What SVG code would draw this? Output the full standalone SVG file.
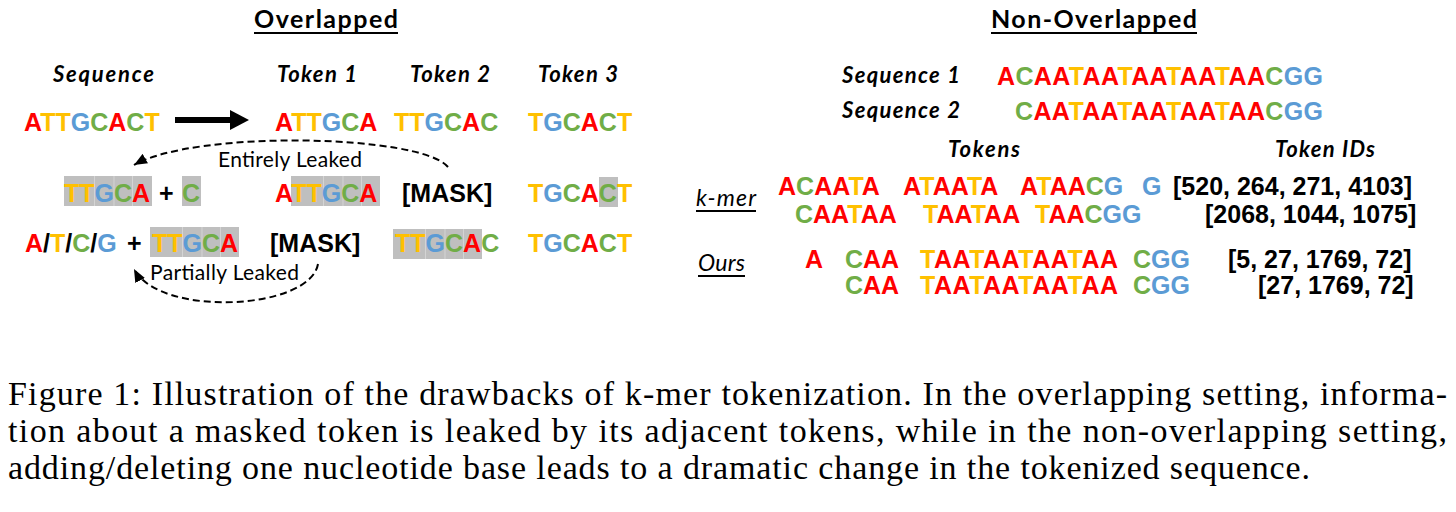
<svg xmlns="http://www.w3.org/2000/svg" width="1456" height="512" viewBox="0 0 1456 512">
<defs>
<style>
.n{font-family:"Liberation Sans",Arial,sans-serif;font-weight:bold;font-size:25px;fill:#000}
.a{fill:#FF0000}.t{fill:#FFC000}.g{fill:#5B9BD5}.c{fill:#70AD47}
.lbl{font-family:Lato,"Open Sans",sans-serif;font-weight:bold;font-style:italic;font-size:22px;fill:#000}
.ttl{font-family:Lato,"Open Sans",sans-serif;font-weight:bold;font-size:25px;fill:#000}
.note{font-family:Lato,"Open Sans",sans-serif;font-size:21px;fill:#000}
.meth{font-family:Lato,"Open Sans",sans-serif;font-style:italic;font-size:23px;fill:#000}
.cap{font-family:"Liberation Serif","Times New Roman",serif;font-size:34px;fill:#000}
.hl{fill:#BFBFBF}
.sep{stroke:#D4D4D4;stroke-width:1}
.ul{stroke:#000;stroke-width:2}
.dash{fill:none;stroke:#000;stroke-width:2;stroke-dasharray:7 4}
</style>
<marker id="ah" viewBox="0 0 12 10" refX="12" refY="5" markerWidth="13" markerHeight="11" markerUnits="userSpaceOnUse" orient="auto"><path d="M0,0 L12,5 L0,10 z" fill="#000"/></marker>
</defs>
<rect width="1456" height="512" fill="#fff"/>

<g id="overlapped">
  <text class="ttl" x="254" y="28" textLength="144">Overlapped</text>
  <line class="ul" x1="254" y1="33" x2="398" y2="33"/>
  <text class="lbl" x="53" y="82" textLength="101">Sequence</text>
  <text class="lbl" x="277" y="82" textLength="80">Token 1</text>
  <text class="lbl" x="410" y="82" textLength="80">Token 2</text>
  <text class="lbl" x="538" y="82" textLength="80">Token 3</text>

  <g id="row1">
    <text class="n" x="24" y="131"><tspan class="a">A</tspan><tspan class="t">TT</tspan><tspan class="g">G</tspan><tspan class="c">C</tspan><tspan class="a">A</tspan><tspan class="c">C</tspan><tspan class="t">T</tspan></text>
    <text class="n" x="275" y="131"><tspan class="a">A</tspan><tspan class="t">TT</tspan><tspan class="g">G</tspan><tspan class="c">C</tspan><tspan class="a">A</tspan></text>
    <text class="n" x="394" y="131"><tspan class="t">TT</tspan><tspan class="g">G</tspan><tspan class="c">C</tspan><tspan class="a">A</tspan><tspan class="c">C</tspan></text>
    <text class="n" x="528" y="131"><tspan class="t">T</tspan><tspan class="g">G</tspan><tspan class="c">C</tspan><tspan class="a">A</tspan><tspan class="c">C</tspan><tspan class="t">T</tspan></text>
  </g>

  <g id="row2">
    <rect class="hl" x="64" y="176" width="88" height="30"/>
    <line class="sep" x1="94.5" y1="176" x2="94.5" y2="206"/>
    <line class="sep" x1="114" y1="176" x2="114" y2="206"/>
    <line class="sep" x1="132.5" y1="176" x2="132.5" y2="206"/>
    <text class="n" x="64" y="202"><tspan class="t">TT</tspan><tspan class="g">G</tspan><tspan class="c">C</tspan><tspan class="a">A</tspan></text>
    <text class="n" x="159" y="202">+</text>
    <rect class="hl" x="182" y="176" width="19" height="30"/>
    <text class="n" x="182" y="202"><tspan class="c">C</tspan></text>
    <rect class="hl" x="291" y="176" width="89" height="30"/>
    <line class="sep" x1="323.5" y1="176" x2="323.5" y2="206"/>
    <line class="sep" x1="343" y1="176" x2="343" y2="206"/>
    <line class="sep" x1="361.5" y1="176" x2="361.5" y2="206"/>
    <text class="n" x="275" y="202"><tspan class="a">A</tspan><tspan class="t">TT</tspan><tspan class="g">G</tspan><tspan class="c">C</tspan><tspan class="a">A</tspan></text>
    <text class="n" x="402" y="202">[MASK]</text>
    <rect class="hl" x="599" y="177" width="19" height="30"/>
    <text class="n" x="528" y="202"><tspan class="t">T</tspan><tspan class="g">G</tspan><tspan class="c">C</tspan><tspan class="a">A</tspan><tspan class="c">C</tspan><tspan class="t">T</tspan></text>
  </g>

  <g id="row3">
    <text class="n" x="25" y="252"><tspan class="a">A</tspan>/<tspan class="t">T</tspan>/<tspan class="c">C</tspan>/<tspan class="g">G</tspan></text>
    <text class="n" x="127" y="252">+</text>
    <rect class="hl" x="150" y="227" width="89" height="30"/>
    <line class="sep" x1="182.5" y1="227" x2="182.5" y2="257"/>
    <line class="sep" x1="202" y1="227" x2="202" y2="257"/>
    <line class="sep" x1="220.5" y1="227" x2="220.5" y2="257"/>
    <text class="n" x="152" y="252"><tspan class="t">TT</tspan><tspan class="g">G</tspan><tspan class="c">C</tspan><tspan class="a">A</tspan></text>
    <text class="n" x="270" y="252">[MASK]</text>
    <rect class="hl" x="393" y="229" width="89" height="30"/>
    <line class="sep" x1="425.5" y1="229" x2="425.5" y2="259"/>
    <line class="sep" x1="445" y1="229" x2="445" y2="259"/>
    <line class="sep" x1="463.5" y1="229" x2="463.5" y2="259"/>
    <text class="n" x="395" y="252"><tspan class="t">TT</tspan><tspan class="g">G</tspan><tspan class="c">C</tspan><tspan class="a">A</tspan><tspan class="c">C</tspan></text>
    <text class="n" x="528" y="252"><tspan class="t">T</tspan><tspan class="g">G</tspan><tspan class="c">C</tspan><tspan class="a">A</tspan><tspan class="c">C</tspan><tspan class="t">T</tspan></text>
  </g>

  <text class="note" x="218" y="167" textLength="144">Entirely Leaked</text>
  <text class="note" x="150" y="280" textLength="149">Partially Leaked</text>
</g>

<g id="non-overlapped">
  <text class="ttl" x="991" y="28" textLength="206">Non-Overlapped</text>
  <line class="ul" x1="991" y1="33" x2="1197" y2="33"/>
  <text class="lbl" x="842" y="83" textLength="118">Sequence 1</text>
  <text class="lbl" x="842" y="118" textLength="118">Sequence 2</text>
  <text class="n" x="997" y="85" textLength="326"><tspan class="a">A</tspan><tspan class="c">C</tspan><tspan class="a">AA</tspan><tspan class="t">T</tspan><tspan class="a">AA</tspan><tspan class="t">T</tspan><tspan class="a">AA</tspan><tspan class="t">T</tspan><tspan class="a">AA</tspan><tspan class="t">T</tspan><tspan class="a">AA</tspan><tspan class="c">C</tspan><tspan class="g">GG</tspan></text>
  <text class="n" x="1015" y="120" textLength="308"><tspan class="c">C</tspan><tspan class="a">AA</tspan><tspan class="t">T</tspan><tspan class="a">AA</tspan><tspan class="t">T</tspan><tspan class="a">AA</tspan><tspan class="t">T</tspan><tspan class="a">AA</tspan><tspan class="t">T</tspan><tspan class="a">AA</tspan><tspan class="c">C</tspan><tspan class="g">GG</tspan></text>

  <text class="lbl" x="948" y="157" textLength="72">Tokens</text>
  <text class="lbl" x="1275" y="157" textLength="100">Token IDs</text>

  <text class="meth" x="696" y="206" textLength="60">k-mer</text>
  <line class="ul" x1="696" y1="211" x2="756" y2="211" stroke-width="1.5"/>
  <text class="meth" x="698" y="271" textLength="47">Ours</text>
  <line class="ul" x1="698" y1="276" x2="745" y2="276" stroke-width="1.5"/>

  <g id="kmer">
    <text class="n" x="778" y="195"><tspan class="a">A</tspan><tspan class="c">C</tspan><tspan class="a">AA</tspan><tspan class="t">T</tspan><tspan class="a">A</tspan></text>
    <text class="n" x="903" y="195"><tspan class="a">A</tspan><tspan class="t">T</tspan><tspan class="a">AA</tspan><tspan class="t">T</tspan><tspan class="a">A</tspan></text>
    <text class="n" x="1020" y="195"><tspan class="a">A</tspan><tspan class="t">T</tspan><tspan class="a">AA</tspan><tspan class="c">C</tspan><tspan class="g">G</tspan></text>
    <text class="n" x="1142" y="195"><tspan class="g">G</tspan></text>
    <text class="n" x="1173" y="195">[520, 264, 271, 4103]</text>
    <text class="n" x="795" y="223"><tspan class="c">C</tspan><tspan class="a">AA</tspan><tspan class="t">T</tspan><tspan class="a">AA</tspan></text>
    <text class="n" x="923" y="223"><tspan class="t">T</tspan><tspan class="a">AA</tspan><tspan class="t">T</tspan><tspan class="a">AA</tspan></text>
    <text class="n" x="1035" y="223"><tspan class="t">T</tspan><tspan class="a">AA</tspan><tspan class="c">C</tspan><tspan class="g">GG</tspan></text>
    <text class="n" x="1205" y="223">[2068, 1044, 1075]</text>
  </g>

  <g id="ours">
    <text class="n" x="805" y="268"><tspan class="a">A</tspan></text>
    <text class="n" x="845" y="268"><tspan class="c">C</tspan><tspan class="a">AA</tspan></text>
    <text class="n" x="920" y="268" textLength="198"><tspan class="t">T</tspan><tspan class="a">AA</tspan><tspan class="t">T</tspan><tspan class="a">AA</tspan><tspan class="t">T</tspan><tspan class="a">AA</tspan><tspan class="t">T</tspan><tspan class="a">AA</tspan></text>
    <text class="n" x="1133" y="268"><tspan class="c">C</tspan><tspan class="g">GG</tspan></text>
    <text class="n" x="1228" y="268">[5, 27, 1769, 72]</text>
    <text class="n" x="845" y="294"><tspan class="c">C</tspan><tspan class="a">AA</tspan></text>
    <text class="n" x="920" y="294" textLength="198"><tspan class="t">T</tspan><tspan class="a">AA</tspan><tspan class="t">T</tspan><tspan class="a">AA</tspan><tspan class="t">T</tspan><tspan class="a">AA</tspan><tspan class="t">T</tspan><tspan class="a">AA</tspan></text>
    <text class="n" x="1133" y="294"><tspan class="c">C</tspan><tspan class="g">GG</tspan></text>
    <text class="n" x="1258" y="294">[27, 1769, 72]</text>
  </g>
</g>

<g id="connectors">
  <line x1="175" y1="120" x2="233" y2="120" stroke="#000" stroke-width="6"/>
  <path d="M230,110 L249,120 L230,130 z" fill="#000"/>
  <path class="dash" d="M448,167 C420,134 195,130 134,165" marker-end="url(#ah)"/>
  <path class="dash" d="M318,264 C310,310 160,318 134,269" marker-end="url(#ah)"/>
</g>

<g id="caption">
  <text class="cap" x="8" y="405" textLength="1439" lengthAdjust="spacing">Figure 1: Illustration of the drawbacks of k-mer tokenization. In the overlapping setting, informa-</text>
  <text class="cap" x="8" y="442" textLength="1439" lengthAdjust="spacing">tion about a masked token is leaked by its adjacent tokens, while in the non-overlapping setting,</text>
  <text class="cap" x="8" y="479" textLength="1302" lengthAdjust="spacing">adding/deleting one nucleotide base leads to a dramatic change in the tokenized sequence.</text>
</g>
</svg>
